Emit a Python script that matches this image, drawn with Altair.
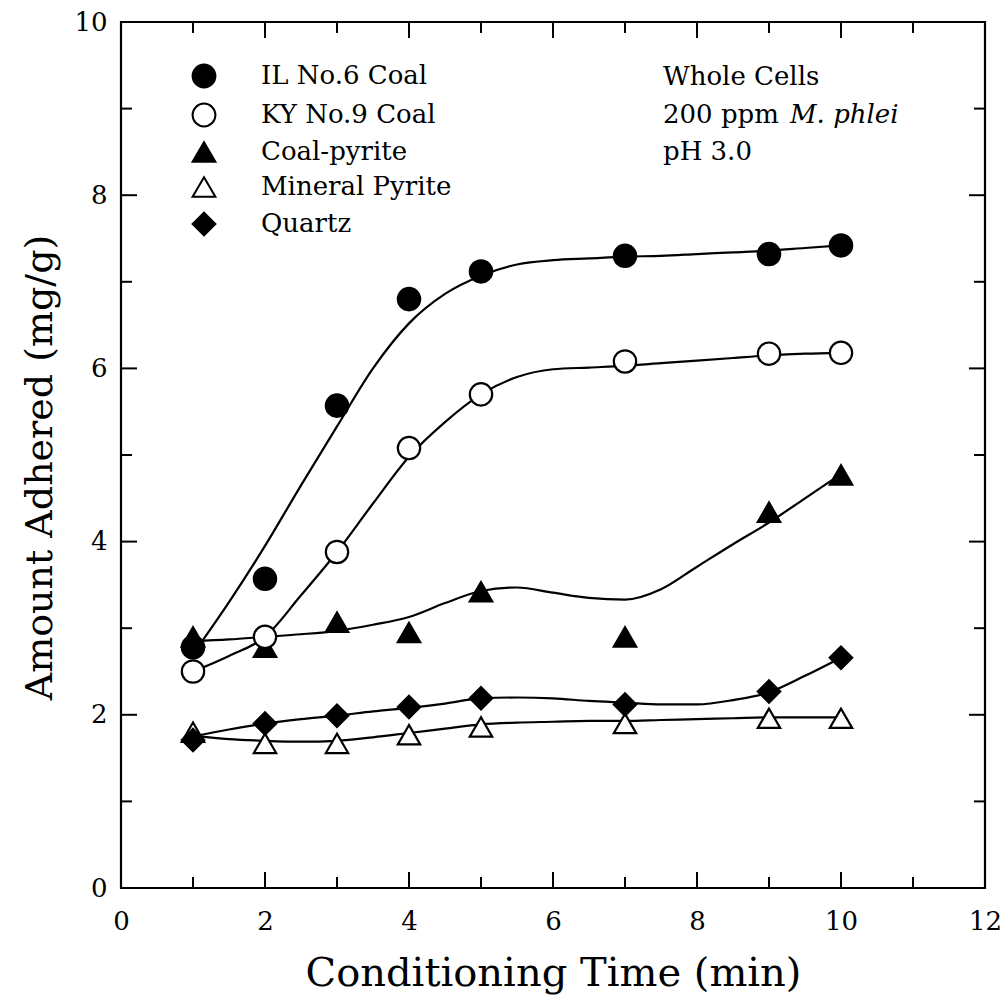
import altair as alt
import pandas as pd

# ---------------- data ----------------
series = ["IL No.6 Coal", "KY No.9 Coal", "Coal-pyrite", "Mineral Pyrite", "Quartz"]
shapes = ["circle", "circle", "triangle-up", "triangle-up", "diamond"]
fills = ["black", "white", "black", "white", "black"]

time_pts = [1, 2, 3, 4, 5, 7, 9, 10]
il_pts = [2.78, 3.57, 5.57, 6.80, 7.12, 7.30, 7.32, 7.42]
ky_pts = [2.50, 2.90, 3.88, 5.08, 5.70, 6.08, 6.17, 6.18]
cp_pts = [2.90, 2.78, 3.07, 2.95, 3.42, 2.90, 4.34, 4.77]
mp_pts = [1.80, 1.67, 1.67, 1.77, 1.86, 1.90, 1.96, 1.96]
qz_pts = [1.71, 1.90, 1.99, 2.09, 2.19, 2.12, 2.27, 2.66]

curve_t = [1, 1.5, 2, 2.5, 3, 3.5, 4, 4.5, 5, 5.5, 6, 6.5, 7, 7.5, 8, 8.5, 9, 9.5, 10]
il_curve = [2.70, 3.30, 3.95, 4.65, 5.33, 6.00, 6.52, 6.86, 7.07, 7.20, 7.25, 7.27, 7.29, 7.30, 7.32, 7.34, 7.36, 7.39, 7.42]
ky_curve = [2.50, 2.68, 2.90, 3.38, 3.88, 4.44, 4.98, 5.38, 5.70, 5.90, 5.99, 6.01, 6.03, 6.06, 6.09, 6.12, 6.15, 6.17, 6.18]
cp_curve = [2.85, 2.87, 2.90, 2.93, 2.97, 3.04, 3.13, 3.29, 3.43, 3.47, 3.41, 3.35, 3.33, 3.45, 3.71, 3.97, 4.22, 4.50, 4.78]
mp_curve = [1.76, 1.72, 1.70, 1.69, 1.70, 1.74, 1.79, 1.84, 1.89, 1.91, 1.92, 1.93, 1.93, 1.94, 1.95, 1.96, 1.97, 1.97, 1.97]
qz_curve = [1.75, 1.83, 1.90, 1.95, 1.99, 2.04, 2.08, 2.13, 2.19, 2.20, 2.19, 2.16, 2.14, 2.12, 2.12, 2.17, 2.26, 2.45, 2.66]

x_ticks = [0, 2, 4, 6, 8, 10, 12]
x_major = [2, 4, 6, 8, 10]
x_minor = [1, 3, 5, 7, 9, 11]
y_ticks = [0, 2, 4, 6, 8, 10]
y_major = [2, 4, 6, 8]
y_minor = [1, 3, 5, 7, 9]

annot_lines = ["Whole Cells", "200 ppm", "pH 3.0"]
annot_italic = "M. phlei"

# ---------------- tables ----------------
pt_vals = {"IL No.6 Coal": il_pts, "KY No.9 Coal": ky_pts, "Coal-pyrite": cp_pts,
           "Mineral Pyrite": mp_pts, "Quartz": qz_pts}
cv_vals = {"IL No.6 Coal": il_curve, "KY No.9 Coal": ky_curve, "Coal-pyrite": cp_curve,
           "Mineral Pyrite": mp_curve, "Quartz": qz_curve}
draw_order = ["Coal-pyrite", "Mineral Pyrite", "KY No.9 Coal", "IL No.6 Coal", "Quartz"]

pts_df = pd.DataFrame([{"series": s, "time": t, "amount": v}
                       for s in draw_order for t, v in zip(time_pts, pt_vals[s])])
cv_df = pd.DataFrame([{"series": s, "time": t, "amount": v}
                      for s in series for t, v in zip(curve_t, cv_vals[s])])

FONT = "DejaVu Serif"
W, H = 864, 866

X = alt.X("time:Q", scale=alt.Scale(domain=[0, 12], nice=False, zero=False),
          axis=alt.Axis(values=x_ticks, ticks=False, domain=False, grid=False,
                        labelFont=FONT, labelFontSize=26, labelColor="black",
                        labelPadding=20, labelFlush=False, labelOverlap=False,
                        title="Conditioning Time (min)", titleFont=FONT,
                        titleFontSize=40, titleFontWeight="normal", titleColor="black",
                        titleX=432, titleY=97, titleBaseline="alphabetic"))
Y = alt.Y("amount:Q", scale=alt.Scale(domain=[0, 10], nice=False, zero=False),
          axis=alt.Axis(values=y_ticks, ticks=False, domain=False, grid=False,
                        labelFont=FONT, labelFontSize=26, labelColor="black",
                        labelPadding=14, labelFlush=False, labelOverlap=False,
                        title="Amount Adhered (mg/g)", titleFont=FONT,
                        titleFontSize=38, titleFontWeight="normal", titleColor="black",
                        titleX=-81, titleY=445, titleBaseline="middle", titleAngle=270))

leg = alt.Legend(title=None, orient="none", legendX=70, legendY=41, padding=0,
                 labelFont=FONT, labelFontSize=26, labelColor="black", labelLimit=500,
                 symbolSize=520, symbolStrokeColor="black", symbolStrokeWidth=2,
                 labelOffset=44, rowPadding=7)

curves = alt.Chart(cv_df).mark_line(color="black", strokeWidth=2.2, interpolate="monotone").encode(
    x=X, y=Y, detail="series:N")

points = alt.Chart(pts_df).mark_point(filled=True, size=500, strokeWidth=2.2, opacity=1).encode(
    x=X, y=Y,
    shape=alt.Shape("series:N", scale=alt.Scale(domain=series, range=shapes), legend=leg),
    fill=alt.Fill("series:N", scale=alt.Scale(domain=series, range=fills), legend=leg),
    stroke=alt.Stroke("series:N", scale=alt.Scale(domain=series, range=["black"] * 5), legend=leg),
)

def xrule(vals, y0, y1):
    return alt.Chart(pd.DataFrame({"time": vals})).mark_rule(color="black", strokeWidth=2).encode(
        x=X, y=alt.value(y0), y2=alt.value(y1))

def yrule(vals, x0, x1):
    return alt.Chart(pd.DataFrame({"amount": vals})).mark_rule(color="black", strokeWidth=2).encode(
        y=Y, x=alt.value(x0), x2=alt.value(x1))

ticks = [
    xrule(x_major, H, H - 16), xrule(x_minor, H, H - 11),
    xrule(x_major, 0, 16), xrule(x_minor, 0, 11),
    yrule(y_major, 0, 16), yrule(y_minor, 0, 11),
    yrule(y_major, W, W - 16), yrule(y_minor, W, W - 11),
]

def note(text, x, y, style="normal"):
    return alt.Chart(pd.DataFrame({"text": [text]})).mark_text(
        font=FONT, fontSize=26, fontStyle=style, align="left", baseline="middle", color="black"
    ).encode(text="text:N", x=alt.value(x), y=alt.value(y))

annots = [
    note(annot_lines[0], 542, 55),
    note(annot_lines[1], 542, 93),
    note(annot_italic, 669, 93, "italic"),
    note(annot_lines[2], 542, 130),
]

chart = alt.layer(curves, *ticks, points, *annots).properties(
    width=W, height=H,
    padding={"left": 121, "top": 22, "right": 21, "bottom": 119},
    autosize=alt.AutoSizeParams(type="none"),
    background="white",
).configure_view(stroke="black", strokeWidth=2.2)

chart.save("out.html", embed_options={"renderer": "svg", "actions": False})
